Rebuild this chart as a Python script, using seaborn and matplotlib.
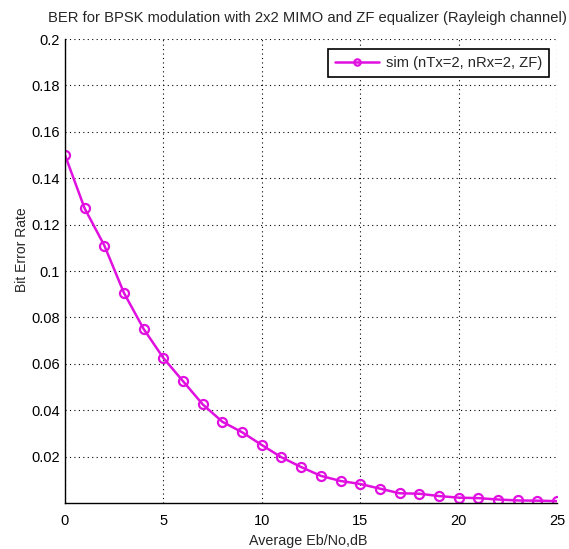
"""BER for BPSK with 2x2 MIMO and ZF equalizer, MATLAB-style figure."""

import matplotlib

matplotlib.use("Agg")
import matplotlib.pyplot as plt
import pandas as pd
import seaborn as sns

# Values
ebno_db = list(range(0, 26))
ber_sim = [
    0.150, 0.127, 0.111, 0.0905, 0.075, 0.0625, 0.0525, 0.0425, 0.035, 0.0305,
    0.025, 0.0197, 0.0155, 0.0117, 0.0095, 0.0082, 0.0062, 0.0042, 0.0040, 0.0030,
    0.0023, 0.0021, 0.0015, 0.0011, 0.0010, 0.0008,
]
series_label = "sim (nTx=2, nRx=2, ZF)"
x_ticks = [0, 5, 10, 15, 20, 25]
y_ticks = [0.02, 0.04, 0.06, 0.08, 0.1, 0.12, 0.14, 0.16, 0.18, 0.2]
y_tick_labels = ["0.02", "0.04", "0.06", "0.08", "0.1", "0.12", "0.14", "0.16", "0.18", "0.2"]

LINE_COLOR = "#e010e0"

sns.set_theme(style="white")
plt.rcParams["font.family"] = ["Liberation Sans", "DejaVu Sans"]

df = pd.DataFrame({"ebno": ebno_db, "ber": ber_sim})

fig = plt.figure(figsize=(5.69, 5.49), dpi=100)
ax = fig.add_axes([0.1142, 0.0838, 0.8647, 0.845])

sns.lineplot(
    data=df, x="ebno", y="ber", color=LINE_COLOR, label=series_label,
    marker="o", markersize=6.5, markerfacecolor="none", markeredgewidth=1.6,
    markeredgecolor=LINE_COLOR, linewidth=1.8, ax=ax,
)

ax.set_xlim(0, 25)
ax.set_ylim(0, 0.2)
ax.set_xticks(x_ticks)
ax.set_xticklabels([str(t) for t in x_ticks])
ax.set_yticks(y_ticks)
ax.set_yticklabels(y_tick_labels)
ax.tick_params(direction="in", length=5, width=0.8, colors="black",
               labelsize=10.5, top=False, right=False)
ax.tick_params(axis="x", pad=8)
ax.tick_params(axis="y", pad=3.5)
ax.grid(True, linestyle=(0, (1, 3)), color="black", linewidth=0.8)
sns.despine(ax=ax, top=True, right=True)
for side in ("left", "bottom"):
    ax.spines[side].set_color("black")
    ax.spines[side].set_linewidth(1.0)

ax.set_xlabel("Average Eb/No,dB", fontsize=10.3, labelpad=4, x=0.494)
ax.set_ylabel("Bit Error Rate", fontsize=10, labelpad=2, y=0.547)
ax.set_title("BER for BPSK modulation with 2x2 MIMO and ZF equalizer (Rayleigh channel)",
             fontsize=10.6, pad=12, x=0.493)

leg = ax.legend(loc="upper right", fontsize=10.6, frameon=True, fancybox=False,
                borderpad=0.45, handlelength=3.0, handletextpad=0.5,
                borderaxespad=0, markerscale=0.7, bbox_to_anchor=(0.984, 0.978))
leg.get_frame().set_edgecolor("black")
leg.get_frame().set_linewidth(1.2)
leg.get_frame().set_alpha(1)

fig.savefig("out.png", dpi=100)
plt.close(fig)
